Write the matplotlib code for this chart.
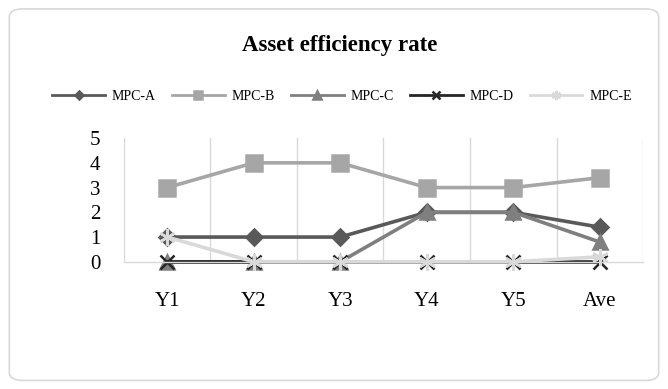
import matplotlib.pyplot as plt
import numpy as np
from matplotlib.patches import FancyBboxPatch

plt.rcParams['font.family'] = ['Liberation Serif', 'DejaVu Serif']

# dados do gráfico
categorias = ['Y1', 'Y2', 'Y3', 'Y4', 'Y5', 'Ave']
mpc_a = [1, 1, 1, 2, 2, 1.4]
mpc_b = [3, 4, 4, 3, 3, 3.4]
mpc_c = [0, 0, 0, 2, 2, 0.8]
mpc_d = [0, 0, 0, 0, 0, 0]
mpc_e = [1, 0, 0, 0, 0, 0.2]
nomes = ['MPC-A', 'MPC-B', 'MPC-C', 'MPC-D', 'MPC-E']

fig = plt.figure(figsize=(6.68, 3.89), dpi=100)

# moldura arredondada
moldura = FancyBboxPatch((0.014, 0.022), 0.972, 0.955,
                         boxstyle='round,pad=0,rounding_size=0.02',
                         transform=fig.transFigure, facecolor='none',
                         edgecolor='#d9d9d9', linewidth=1.2, zorder=-1)
fig.patches.append(moldura)

ax = fig.add_axes([0.1856, 0.327, 0.777, 0.318])
ax.set_facecolor('none')
x = np.arange(len(categorias))

estilos = [
    (mpc_a, '#595959', 'D', 8),
    (mpc_b, '#a6a6a6', 's', 11),
    (mpc_c, '#7f7f7f', '^', 10),
    (mpc_d, '#262626', 'x', 10),
    (mpc_e, '#d9d9d9', (6, 2, 0), 12),
]
for (valores, cor, marcador, tam), nome in zip(estilos, nomes):
    ax.plot(x, valores, color=cor, linewidth=2.6, marker=marcador,
            markersize=tam, markeredgewidth=1.8, label=nome, clip_on=False)

# linhas de grade verticais entre categorias
for b in np.arange(-0.5, len(categorias), 1.0):
    ax.axvline(b, color='#d9d9d9', linewidth=1.0, zorder=0)

ax.set_xlim(-0.5, len(categorias) - 0.5)
ax.set_ylim(0, 5)
ax.set_yticks(range(6))
ax.set_xticks(x)
ax.set_xticklabels(categorias)
ax.tick_params(axis='both', length=0, labelsize=15)
ax.tick_params(axis='y', pad=17)
ax.tick_params(axis='x', pad=22)
for lado in ['top', 'left', 'right']:
    ax.spines[lado].set_visible(False)
ax.spines['bottom'].set_color('#d9d9d9')
ax.spines['bottom'].set_linewidth(1.0)

fig.text(0.508, 0.884, 'Asset efficiency rate', ha='center', va='center',
         fontsize=16.5, fontweight='bold')

leg = fig.legend(loc='center', bbox_to_anchor=(0.512, 0.753), ncol=5, frameon=False,
                 fontsize=10, handlelength=3.8, columnspacing=1.15,
                 handletextpad=0.5, markerscale=0.55)
for linha in leg.get_lines():
    linha.set_linewidth(2.0)

fig.savefig('out.png', dpi=100)
